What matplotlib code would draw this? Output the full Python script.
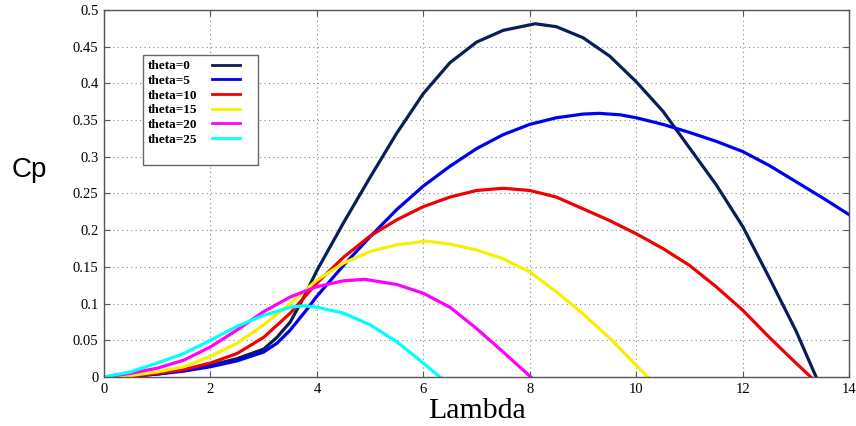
import matplotlib
matplotlib.use('Agg')
import matplotlib.pyplot as plt
from matplotlib.lines import Line2D
from matplotlib.ticker import FuncFormatter

# tip speed ratio samples (lambda) and Cp read for each pitch angle
lam_0 = [0, 0.5, 1, 1.5, 2, 2.5, 3, 3.25, 3.5, 3.75, 4, 4.5, 5, 5.5, 6, 6.5, 7, 7.5,
         8.1, 8.5, 9, 9.5, 10, 10.5, 11, 11.5, 12, 12.5, 13, 13.38]
cp_0 = [0, 0.001, 0.004, 0.009, 0.016, 0.025, 0.038, 0.054, 0.075, 0.108, 0.145, 0.21, 0.272,
        0.332, 0.386, 0.428, 0.456, 0.472, 0.481, 0.477, 0.462, 0.437, 0.402, 0.362, 0.312,
        0.262, 0.205, 0.135, 0.063, 0]

lam_5 = [0, 0.5, 1, 1.5, 2, 2.5, 3, 3.25, 3.5, 3.8, 4, 4.5, 5, 5.5, 6, 6.5, 7, 7.5, 8, 8.5, 9,
         9.3, 9.7, 10, 10.5, 11, 11.5, 12, 12.5, 13, 13.5, 14]
cp_5 = [0, 0.001, 0.004, 0.008, 0.014, 0.022, 0.034, 0.046, 0.064, 0.091, 0.11, 0.152, 0.191, 0.228,
        0.26, 0.287, 0.311, 0.33, 0.344, 0.353, 0.358, 0.359, 0.357, 0.353, 0.344, 0.333, 0.321,
        0.307, 0.288, 0.266, 0.244, 0.221]

lam_10 = [0, 0.5, 1, 1.5, 2, 2.5, 3, 3.5, 4, 4.5, 5, 5.5, 6, 6.5, 7, 7.5, 8, 8.5, 9, 9.5,
          10, 10.5, 11, 11.5, 12, 12.5, 13, 13.28]
cp_10 = [0, 0.001, 0.005, 0.010, 0.019, 0.032, 0.054, 0.087, 0.128, 0.163, 0.192, 0.214, 0.232, 0.245,
         0.254, 0.257, 0.254, 0.245, 0.229, 0.213, 0.195, 0.175, 0.152, 0.123, 0.091, 0.054, 0.019, 0]

lam_15 = [0, 0.5, 1, 1.5, 2, 2.5, 3, 3.5, 4, 4.5, 5, 5.5, 6.05, 6.5, 7, 7.5, 8, 8.5, 9, 9.5,
          10, 10.22]
cp_15 = [0, 0.002, 0.007, 0.014, 0.028, 0.046, 0.071, 0.100, 0.132, 0.155, 0.171, 0.180, 0.185, 0.181,
         0.173, 0.161, 0.143, 0.116, 0.086, 0.053, 0.016, 0]

lam_20 = [0, 0.5, 1, 1.5, 2, 2.5, 3, 3.5, 4, 4.5, 4.9, 5.5, 6, 6.5, 7, 7.5, 8.02]
cp_20 = [0, 0.005, 0.012, 0.023, 0.041, 0.064, 0.089, 0.109, 0.123, 0.131, 0.133, 0.126, 0.114, 0.095,
         0.066, 0.034, 0]

lam_25 = [0, 0.5, 1, 1.5, 2, 2.5, 3, 3.5, 3.75, 4, 4.5, 5, 5.5, 6, 6.31]
cp_25 = [0, 0.007, 0.019, 0.032, 0.050, 0.069, 0.084, 0.095, 0.097, 0.095, 0.087, 0.071, 0.048, 0.019, 0]

labels = ['theta=0', 'theta=5', 'theta=10', 'theta=15', 'theta=20', 'theta=25']
colors = ['#0b1d58', '#0000f0', '#f00000', '#f8f000', '#ff00ff', '#00ffff']

series = [(lam_0, cp_0), (lam_5, cp_5), (lam_10, cp_10),
          (lam_15, cp_15), (lam_20, cp_20), (lam_25, cp_25)]

fig = plt.figure(figsize=(8.56, 4.26), dpi=100)
ax = fig.add_axes([0.1215, 0.115, 0.8705, 0.862])

handles = []
for (x, y), c, lab in zip(series, colors, labels):
    line, = ax.plot(x, y, color=c, lw=2.3, label=lab, solid_joinstyle='round')
    handles.append(line)

ax.set_xlim(0, 14)
ax.set_ylim(0, 0.5)
ax.set_xticks(range(0, 15, 2))
ax.set_yticks([i * 0.05 for i in range(11)])
ax.yaxis.set_major_formatter(FuncFormatter(lambda v, p: '%g' % round(v, 2)))

ax.grid(True, linestyle=(0, (1, 3)), color='#888888', lw=0.8)
ax.tick_params(direction='in', length=4, top=True, right=True, color='#555555',
               labelsize=10.5, pad=4)
for lbl in ax.get_xticklabels() + ax.get_yticklabels():
    lbl.set_family('Liberation Serif')
for s in ax.spines.values():
    s.set_color('#555555')
    s.set_linewidth(1.0)

ax.set_xlabel('Lambda', family='Liberation Serif', fontsize=21.5, labelpad=1.5)
fig.text(0.034, 0.585, 'Cp', family='Liberation Sans', fontsize=20, ha='center', va='baseline')

# legend: names on the left, short line samples on the right,
# blank row keeps the empty space under the last entry
blank = Line2D([], [], color='none')
fs = 9.5
leg = ax.legend(handles + [blank], labels + [''], loc='upper left',
                bbox_to_anchor=(0.052, 0.877), markerfirst=False,
                fancybox=False, framealpha=1, edgecolor='#666666', handlelength=2.1,
                borderpad=0.4, labelspacing=0.18, handletextpad=1.5, borderaxespad=0,
                prop={'family': 'Liberation Serif', 'weight': 'bold', 'size': fs})
leg.get_frame().set_linewidth(1.0)
for h in leg.get_lines():
    h.set_linewidth(2)

# left-align the names and put every sample at the same offset (pixels)
fig.canvas.draw()
renderer = fig.canvas.get_renderer()
column = leg._legend_handle_box.get_children()[0]
column.align = 'left'
rows = column.get_children()
sample_offset = 64
for i, row in enumerate(rows):
    w = row.get_children()[0].get_window_extent(renderer).width
    extra = 13 if i == len(rows) - 1 else 0
    row.sep = (sample_offset + extra - w) * 72.0 / fig.dpi

fig.savefig('out.png', dpi=100)
